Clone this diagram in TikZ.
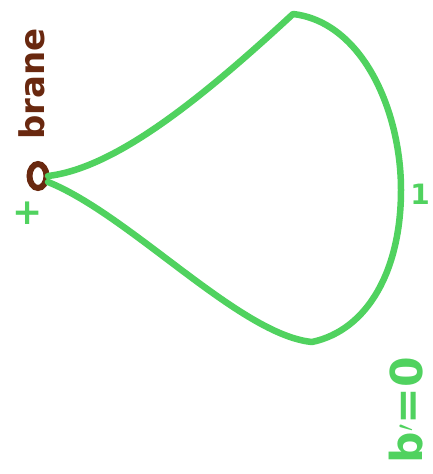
\documentclass[tikz,border=0pt]{standalone}
\usepackage{fontspec}
\usetikzlibrary{shapes.geometric}
\setmainfont{DejaVu Sans}
\definecolor{pen}{RGB}{80,210,95}
\definecolor{branebrown}{RGB}{105,40,15}
\begin{document}
\begin{tikzpicture}[x=1pt,y=-1pt,
  stroke/.style={draw=pen,line width=6.5pt,line cap=round,line join=round},
  lbl/.style={text=pen,inner sep=0pt},
]
\useasboundingbox (0,0) rectangle (433,474);
\node[ellipse,draw=branebrown,line width=6pt,minimum width=17pt,minimum height=24pt,inner sep=0pt] (b) at (38,176) {};
\coordinate (top) at (293,14);
\coordinate (rgt) at (401,190);
\coordinate (bot) at (312,342);
\coordinate (bu) at (48,176);
\coordinate (bl) at (48,182);
\draw[stroke] (bu) .. controls (115,168) and (200,100) .. (top)
  .. controls (362,22) and (401,110) .. (rgt)
  .. controls (401,270) and (368,330) .. (bot)
  .. controls (240,335) and (130,215) .. (bl);
\node[text=branebrown,rotate=90,font=\bfseries\fontsize{34}{36}\selectfont,inner sep=0pt] (brane) at (32,84) {brane};
\node[lbl,font=\bfseries\fontsize{36}{38}\selectfont] (plus) at (28,213) {+};
\node[lbl,font=\bfseries\fontsize{28}{30}\selectfont] (one) at (420,194) {1};
\node[lbl,rotate=90,font=\bfseries\fontsize{44}{46}\selectfont] (cond) at (406,410) {b$'$=0};
\end{tikzpicture}
\end{document}
